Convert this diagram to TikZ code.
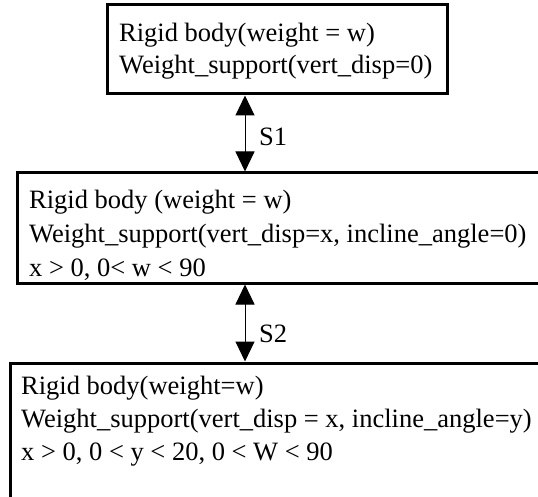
\documentclass[tikz,border=0pt]{standalone}
\usepackage{fontspec}
\setmainfont{Liberation Serif}
\usetikzlibrary{arrows.meta}
\begin{document}
\begin{tikzpicture}[x=1pt,y=-1pt,
  statebox/.style={draw, line width=3pt, inner sep=0pt, minimum width=#1},
  txt/.style={anchor=base west, inner sep=0pt, font=\fontsize{26.5}{33}\selectfont},
  lbl/.style={anchor=base west, inner sep=0pt, font=\fontsize{26.5}{33}\selectfont},
  link/.style={line width=1pt, {Triangle[length=20pt,width=19pt]}-{Triangle[length=20pt,width=19pt]}}]
  \useasboundingbox (0,0) rectangle (538,497);
  \clip (0,0) rectangle (538,497);
  % state boxes
  \node[statebox=340pt, minimum height=89pt] (b1) at (277,49.5) {};
  \node[statebox=543pt, minimum height=110pt] (b2) at (288.5,228) {};
  \node[statebox=550pt, minimum height=157pt] (b3) at (285,441.5) {};
  % box contents
  \node[txt] (t11) at (119,42) {Rigid body(weight = w)};
  \node[txt] (t12) at (119,74) {Weight\_support(vert\_disp=0)};
  \node[txt] (t21) at (29,208) {Rigid body (weight = w)};
  \node[txt] (t22) at (29,242) {Weight\_support(vert\_disp=x, incline\_angle=0)};
  \node[txt] (t23) at (29,276) {x > 0, 0< w < 90};
  \node[txt] (t31) at (21,394) {Rigid body(weight=w)};
  \node[txt] (t32) at (21,427) {Weight\_support(vert\_disp = x, incline\_angle=y)};
  \node[txt] (t33) at (21,460) {x > 0, 0 < y < 20, 0 < W < 90};
  % transitions
  \coordinate (ax) at (245,0);
  \draw[link] (b1.south -| ax) -- (b2.north -| ax);
  \draw[link] (b2.south -| ax) -- (b3.north -| ax);
  \node[lbl] (s1) at (259,146) {S1};
  \node[lbl] (s2) at (259,342) {S2};
\end{tikzpicture}
\end{document}
